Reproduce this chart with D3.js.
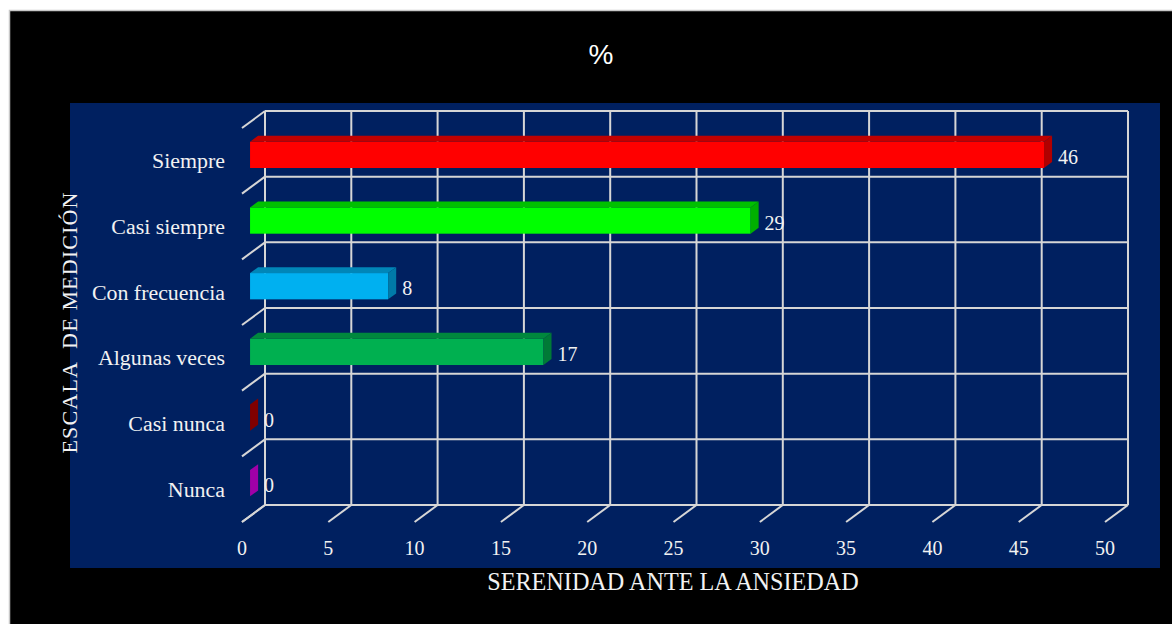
<!DOCTYPE html>
<html>
<head>
<meta charset="utf-8">
<script src="https://cdn.jsdelivr.net/npm/d3@7"></script>
<style>
  html, body { margin: 0; padding: 0; background: #ffffff; }
  svg { display: block; }
</style>
</head>
<body>
<svg id="chart" width="1172" height="624"></svg>
<script>
// ---- data ----
const categories = ["Siempre", "Casi siempre", "Con frecuencia", "Algunas veces", "Casi nunca", "Nunca"];
const values = [46, 29, 8, 17, 0, 0];
const xTicks = [0, 5, 10, 15, 20, 25, 30, 35, 40, 45, 50];
const titleText = "%";
const xTitle = "SERENIDAD ANTE LA ANSIEDAD";
const yTitle = "ESCALA  DE MEDICIÓN";

// ---- styles ----
const frontColors = ["#FF0000", "#00FF00", "#00B0F0", "#00B050", "#800000", "#A000A8"];
const topColors   = ["#C00000", "#00C000", "#0086B8", "#00883D", "#600000", "#780080"];
const sideColors  = ["#B00000", "#00B000", "#007AA8", "#007A36", "#7A0000", "#9A00A4"];
const gridColor = "#D6D6D6";
const textColor = "#F2F2F2";

const svg = d3.select("#chart");

// page frame
svg.append("rect").attr("x", 9).attr("y", 11).attr("width", 1172 - 9).attr("height", 624 - 11)
  .attr("fill", "#000000");
svg.append("path").attr("d", "M9.5,624 L9.5,10.5 L1172,10.5")
  .attr("fill", "none").attr("stroke", "#C8C8C8").attr("stroke-width", 1.5);

// plot area
svg.append("rect").attr("x", 70).attr("y", 103).attr("width", 1160 - 70).attr("height", 568 - 103)
  .attr("fill", "#002060");

// scales (back wall)
const x = d3.scaleLinear().domain([0, 50]).range([265, 1128]);
const y = d3.scaleBand().domain(categories).range([111, 505]).padding(0);

// oblique depth offset from back wall to the front of the floor
const DX = -23, DY = 17;

const grid = svg.append("g").attr("stroke", gridColor).attr("stroke-width", 2).attr("fill", "none");

// vertical grid lines on back wall
grid.selectAll("line.v").data(xTicks).enter().append("line")
  .attr("x1", d => x(d)).attr("x2", d => x(d))
  .attr("y1", y.range()[0]).attr("y2", y.range()[1]);

// horizontal category boundaries on back wall
const bounds = categories.map(c => y(c)).concat([y.range()[1]]);
grid.selectAll("line.h").data(bounds).enter().append("line")
  .attr("x1", x(0)).attr("x2", x(50))
  .attr("y1", d => d).attr("y2", d => d);

// left wall diagonals
grid.selectAll("line.ld").data(bounds).enter().append("line")
  .attr("x1", x(0)).attr("y1", d => d)
  .attr("x2", x(0) + DX).attr("y2", d => d + DY);

// floor tick diagonals
grid.selectAll("line.fd").data(xTicks).enter().append("line")
  .attr("x1", d => x(d)).attr("y1", y.range()[1])
  .attr("x2", d => x(d) + DX).attr("y2", y.range()[1] + DY);

// bars
const fFront = 0.65, fBack = 0.30;
const fdx = DX * fFront, fdy = DY * fFront;
const bdx = DX * fBack, bdy = DY * fBack;
const halfH = y.bandwidth() * 0.2;

const bars = svg.append("g");
categories.forEach((c, i) => {
  const v = values[i];
  const cy = y(c) + y.bandwidth() / 2;
  const x0F = x(0) + fdx, xvF = x(v) + fdx;
  const x0B = x(0) + bdx, xvB = x(v) + bdx;
  const tF = cy + fdy - halfH, bF = cy + fdy + halfH;
  const tB = cy + bdy - halfH, bB = cy + bdy + halfH;
  const g = bars.append("g");
  if (v > 0) {
    g.append("rect").attr("x", x0F).attr("y", tF).attr("width", xvF - x0F).attr("height", bF - tF)
      .attr("fill", frontColors[i]);
    g.append("polygon").attr("points", [[x0F, tF], [xvF, tF], [xvB, tB], [x0B, tB]].map(p => p.join(",")).join(" "))
      .attr("fill", topColors[i]);
  }
  g.append("polygon").attr("points", [[xvF, tF], [xvB, tB], [xvB, bB], [xvF, bF]].map(p => p.join(",")).join(" "))
    .attr("fill", v > 0 ? sideColors[i] : frontColors[i]);
  // value label
  svg.append("text").attr("x", xvF + 14).attr("y", cy + fdy + 2).attr("dy", "0.35em")
    .attr("font-family", "'Liberation Serif', 'Times New Roman', serif").attr("font-size", 20)
    .attr("fill", textColor).text(v);
});

// category labels
svg.append("g").selectAll("text").data(categories).enter().append("text")
  .attr("x", 225).attr("y", d => y(d) + y.bandwidth() / 2 + DY).attr("dy", "0.35em")
  .attr("text-anchor", "end")
  .attr("font-family", "'Liberation Serif', 'Times New Roman', serif").attr("font-size", 21.9)
  .attr("fill", textColor).text(d => d);

// x tick labels
svg.append("g").selectAll("text").data(xTicks).enter().append("text")
  .attr("x", d => x(d) + DX).attr("y", 548).attr("dy", "0.35em")
  .attr("text-anchor", "middle")
  .attr("font-family", "'Liberation Serif', 'Times New Roman', serif").attr("font-size", 20)
  .attr("fill", textColor).text(d => d);

// title
svg.append("text").attr("x", 601).attr("y", 64).attr("text-anchor", "middle")
  .attr("font-family", "'Liberation Sans', Arial, sans-serif").attr("font-size", 28)
  .attr("fill", "#FFFFFF").text(titleText);

// x-axis title
svg.append("text").attr("x", 673).attr("y", 590).attr("text-anchor", "middle")
  .attr("font-family", "'Liberation Serif', 'Times New Roman', serif").attr("font-size", 24.2)
  .attr("fill", textColor).text(xTitle);

// y-axis title
svg.append("text").attr("transform", "translate(77,323) rotate(-90)")
  .attr("text-anchor", "middle")
  .attr("font-family", "'Liberation Serif', 'Times New Roman', serif").attr("font-size", 22)
  .attr("textLength", 261).attr("lengthAdjust", "spacing")
  .attr("xml:space", "preserve")
  .attr("fill", textColor).text(yTitle);
</script>
</body>
</html>
